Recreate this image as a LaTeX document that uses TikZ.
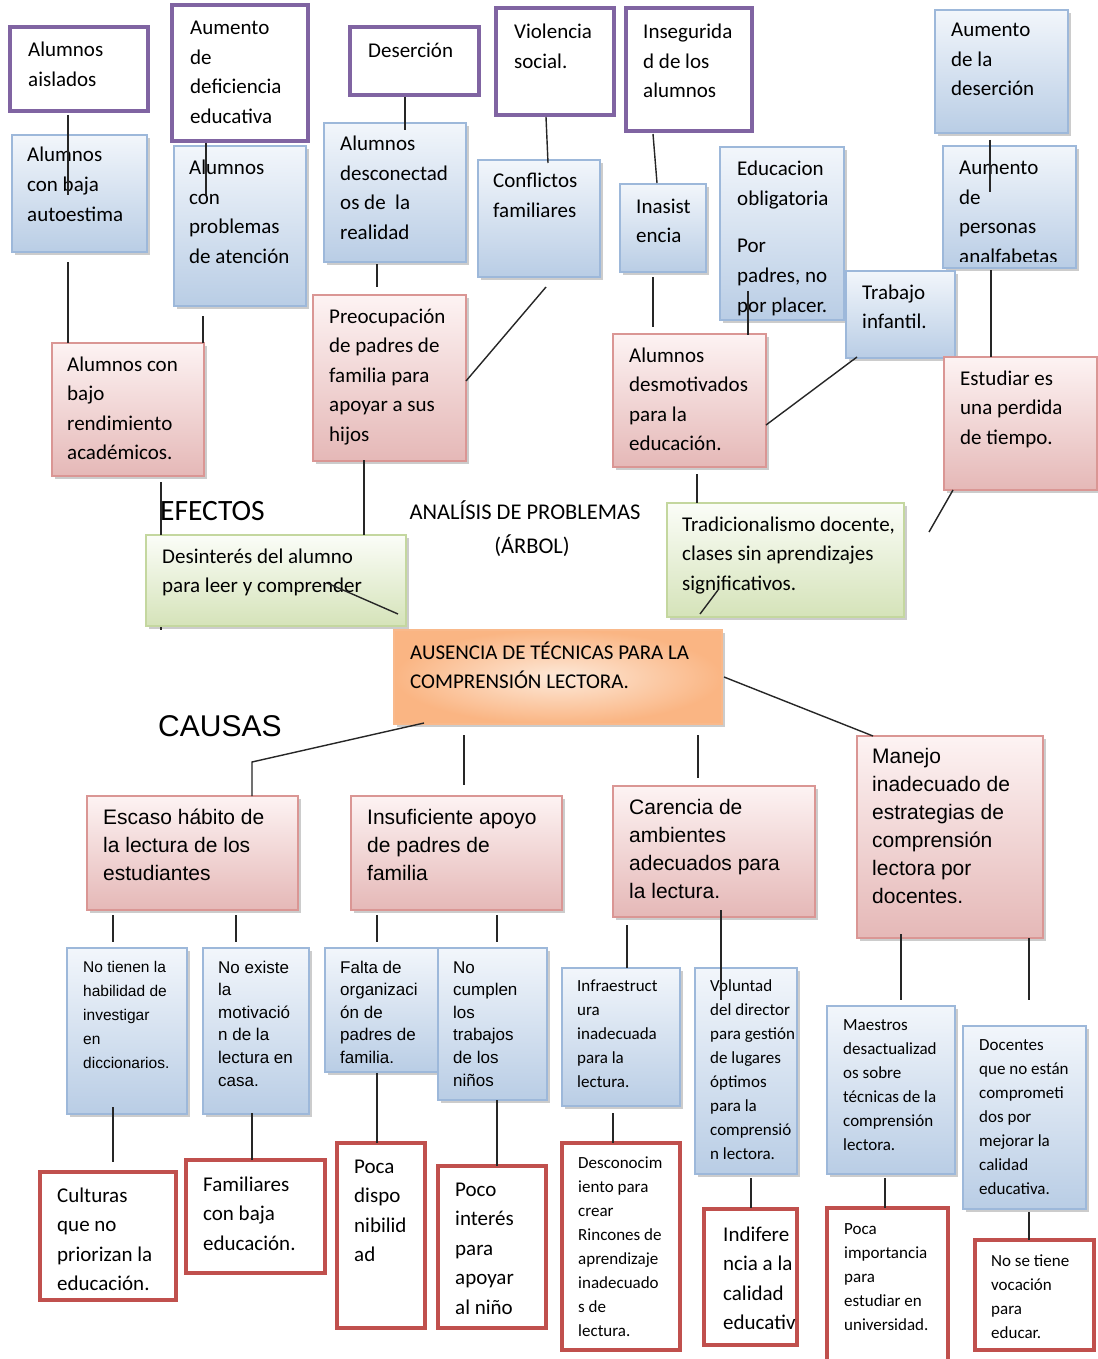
\documentclass[tikz,border=0pt]{standalone}
\usepackage{fontspec}
\setmainfont{Carlito}
\newfontfamily\arialf{Liberation Sans}
\usetikzlibrary{shadows}
\definecolor{purp}{HTML}{8064A2}
\definecolor{redb}{HTML}{C0504D}
\definecolor{bluetop}{HTML}{F2F6FB}
\definecolor{bluebot}{HTML}{B9CDE5}
\definecolor{bluebd}{HTML}{9DB8DA}
\definecolor{pinktop}{HTML}{FDF3F3}
\definecolor{pinkbot}{HTML}{E5B8B7}
\definecolor{pinkbd}{HTML}{DA9694}
\definecolor{greentop}{HTML}{FBFDF8}
\definecolor{greenbot}{HTML}{D5E3B9}
\definecolor{greenbd}{HTML}{C4D79F}
\definecolor{orin}{HTML}{FDE9D9}
\definecolor{orout}{HTML}{FAB583}
\definecolor{orbd}{HTML}{F9B98B}
\newcommand\bx[6]{\node[#1,anchor=north west,minimum width=#5-#3,minimum height=#6-#4] (#2) at (#3,#4) {};}
\newcommand\tx[5]{\node[#1,anchor=base west,inner sep=0pt] (#2) at (#3,#4) {\begin{tabular}[t]{@{}l@{}}#5\end{tabular}};}
\tikzset{
  bxbase/.style={rectangle,inner sep=0pt,outer sep=0pt},
  shad/.style={drop shadow={shadow xshift=2.5pt,shadow yshift=-3pt,opacity=0.4,fill=black!50}},
  purplebx/.style={bxbase,draw=purp,line width=4pt,fill=white},
  redbx/.style={bxbase,draw=redb,line width=4pt,fill=white},
  bluebx/.style={bxbase,shad,draw=bluebd,line width=1.5pt,top color=bluetop,bottom color=bluebot},
  pinkbx/.style={bxbase,shad,draw=pinkbd,line width=1.5pt,top color=pinktop,bottom color=pinkbot},
  greenbx/.style={bxbase,shad,draw=greenbd,line width=1.5pt,top color=greentop,bottom color=greenbot},
  orangebx/.style={bxbase,shad,draw=orbd,line width=1.5pt,inner color=orin,outer color=orout},
  cal/.style={font=\fontsize{21}{29.5}\selectfont},
  calsm/.style={font=\fontsize{17}{24}\selectfont},
  ari/.style={font=\arialf\fontsize{21}{28}\selectfont},
  arism/.style={font=\arialf\fontsize{17}{22.6}\selectfont},
  arixs/.style={font=\arialf\fontsize{15.5}{24}\selectfont},
  conn/.style={line width=1.4pt,black!85},
}
\begin{document}
\begin{tikzpicture}[x=1pt,y=-1pt]
\fill[white] (0,0) rectangle (1097,1359);
\useasboundingbox (0,0) rectangle (1097,1359);
% ---------- top purple boxes
\bx{purplebx}{p1}{10}{27}{148}{111}
\bx{purplebx}{p2}{172}{5}{308}{141}
\bx{purplebx}{p3}{350}{27}{479}{95}
\bx{purplebx}{p4}{496}{8}{614}{115}
\bx{purplebx}{p5}{626}{8}{752}{131}
% ---------- blue effect boxes
\bx{bluebx}{b8}{935}{10}{1068}{133}
\bx{bluebx}{b1}{12}{135}{147}{252}
\bx{bluebx}{b2}{174}{146}{306}{306}
\bx{bluebx}{b3}{324}{123}{466}{262}
\bx{bluebx}{b4}{478}{160}{600}{277}
\bx{bluebx}{b5}{620}{184}{706}{272}
\bx{bluebx}{b6}{720}{147}{844}{320}
\bx{bluebx}{b9}{943}{146}{1076}{268}
\bx{bluebx}{b7}{846}{271}{955}{358}
% ---------- pink effect boxes
\bx{pinkbx}{r1}{52}{343}{204}{476}
\bx{pinkbx}{r2}{313}{295}{466}{461}
\bx{pinkbx}{r3}{613}{334}{766}{467}
\bx{pinkbx}{r4}{944}{357}{1097}{490}
% ---------- green boxes
\bx{greenbx}{g1}{146}{535}{406}{626}
\bx{greenbx}{g2}{667}{503}{904}{617}
% ---------- central problem
\bx{orangebx}{o}{394}{630}{722}{724}
% ---------- causes
\bx{pinkbx}{c1}{87}{796}{298}{910}
\bx{pinkbx}{c2}{351}{796}{562}{910}
\bx{pinkbx}{c3}{613}{786}{815}{917}
\bx{pinkbx}{c4}{857}{736}{1043}{938}
% ---------- sub causes
\bx{bluebx}{s1}{67}{948}{187}{1114}
\bx{bluebx}{s2}{203}{948}{309}{1114}
\bx{bluebx}{s3}{325}{948}{438}{1072}
\bx{bluebx}{s4}{438}{948}{547}{1100}
\bx{bluebx}{s5}{562}{968}{680}{1106}
\bx{bluebx}{s6}{695}{968}{797}{1174}
\bx{bluebx}{s7}{827}{1006}{955}{1174}
\bx{bluebx}{s8}{963}{1026}{1086}{1209}
% ---------- root causes
\bx{redbx}{t1}{40}{1172}{176}{1300}
\bx{redbx}{t2}{186}{1160}{325}{1273}
\bx{redbx}{t3}{337}{1143}{425}{1328}
\bx{redbx}{t4}{438}{1166}{546}{1328}
\bx{redbx}{t5}{562}{1143}{680}{1350}
\bx{redbx}{t6}{704}{1209}{797}{1345}
\bx{redbx}{t7}{827}{1208}{948}{1364}
\bx{redbx}{t8}{975}{1240}{1094}{1350}
% ---------- texts
\tx{cal}{p1t}{28}{57}{Alumnos\\aislados}
\tx{cal}{p2t}{190}{35}{Aumento\\de\\deficiencia\\educativa}
\tx{cal}{p3t}{368}{58}{Deserción}
\tx{cal}{p4t}{514}{39}{Violencia\\social.}
\tx{cal}{p5t}{643}{39}{Insegurida\\d de los\\alumnos}
\tx{cal}{b8t}{951}{37}{Aumento\\de la\\deserción}
\tx{cal}{b1t}{27}{162}{Alumnos\\con baja\\autoestima}
\tx{cal}{b2t}{189}{175}{Alumnos\\con\\problemas\\de atención}
\tx{cal}{b3t}{340}{151}{Alumnos\\desconectad\\os de\ \ la\\realidad}
\tx{cal}{b4t}{493}{188}{Conflictos\\familiares}
\tx{cal}{b5t}{636}{213}{Inasist\\encia}
\begin{scope}
\clip (b6.north west) rectangle ([shift={(0,-5)}]b6.south east);
\tx{cal}{b6t}{737}{176}{Educacion\\obligatoria\\[18pt]Por\\padres, no\\por placer.}
\end{scope}
\begin{scope}
\clip (b9.north west) rectangle ([shift={(0,-7)}]b9.south east);
\tx{cal}{b9t}{959}{175}{Aumento\\de\\personas\\analfabetas}
\end{scope}
\tx{cal}{b7t}{862}{299}{Trabajo\\infantil.}
\tx{cal}{r1t}{67}{371}{Alumnos con\\bajo\\rendimiento\\académicos.}
\tx{cal}{r2t}{329}{323}{Preocupación\\de padres de\\familia para\\apoyar a sus\\hijos}
\tx{cal}{r3t}{629}{362}{Alumnos\\desmotivados\\para la\\educación.}
\tx{cal}{r4t}{960}{385}{Estudiar es\\una perdida\\de tiempo.}
\tx{cal}{g1t}{162}{563}{Desinterés del alumno\\para leer y comprender}
\tx{cal}{g2t}{682}{531}{Tradicionalismo docente,\\clases sin aprendizajes\\significativos.}
\tx{cal}{ot}{410}{659}{AUSENCIA DE TÉCNICAS PARA LA\\COMPRENSIÓN LECTORA.}
\node[font=\fontsize{29.5}{34}\selectfont,anchor=base west,inner sep=0pt] (efectos) at (160,520) {EFECTOS};
\node[font=\fontsize{22.5}{26}\selectfont,anchor=base,inner sep=0pt] (analisis) at (525,519) {ANALÍSIS DE PROBLEMAS};
\node[font=\fontsize{22.5}{26}\selectfont,anchor=base,inner sep=0pt] (arbol) at (532,553) {(ÁRBOL)};
\node[font=\arialf\fontsize{30}{34}\selectfont,anchor=base west,inner sep=0pt] (causas) at (158,736) {CAUSAS};
\tx{ari}{c1t}{103}{824}{Escaso hábito de\\la lectura de los\\estudiantes}
\tx{ari}{c2t}{367}{824}{Insuficiente apoyo\\de padres de\\familia}
\tx{ari}{c3t}{629}{814}{Carencia de\\ambientes\\adecuados para\\la lectura.}
\tx{ari}{c4t}{872}{763}{Manejo\\inadecuado de\\estrategias de\\comprensión\\lectora por\\docentes.}
\tx{arixs}{s1t}{83}{972}{No tienen la\\habilidad de\\investigar\\en\\diccionarios.}
\tx{arism}{s2t}{218}{973}{No existe\\la\\motivació\\n de la\\lectura en\\casa.}
\tx{arism}{s3t}{340}{973}{Falta de\\organizaci\\ón de\\padres de\\familia.}
\tx{arism}{s4t}{453}{973}{No\\cumplen\\los\\trabajos\\de los\\niños}
\tx{calsm}{s5t}{577}{991}{Infraestruct\\ura\\inadecuada\\para la\\lectura.}
\tx{calsm}{s6t}{710}{991}{Voluntad\\del director\\para gestión\\de lugares\\óptimos\\para la\\comprensió\\n lectora.}
\tx{calsm}{s7t}{843}{1030}{Maestros\\desactualizad\\os sobre\\técnicas de la\\comprensión\\lectora.}
\tx{calsm}{s8t}{979}{1050}{Docentes\\que no están\\comprometi\\dos por\\mejorar la\\calidad\\educativa.}
\tx{cal}{t1t}{57}{1202}{Culturas\\que no\\priorizan la\\educación.}
\tx{cal}{t2t}{203}{1191}{Familiares\\con baja\\educación.}
\tx{cal}{t3t}{354}{1173}{Poca\\dispo\\nibilid\\ad}
\tx{cal}{t4t}{455}{1196}{Poco\\interés\\para\\apoyar\\al niño}
\tx{calsm}{t5t}{578}{1168}{Desconocim\\iento para\\crear\\Rincones de\\aprendizaje\\inadecuado\\s de\\lectura.}
\tx{cal}{t6t}{723}{1241}{Indifere\\ncia a la\\calidad\\educativ}
\tx{calsm}{t7t}{844}{1234}{Poca\\importancia\\para\\estudiar en\\universidad.}
\tx{calsm}{t8t}{991}{1266}{No se tiene\\vocación\\para\\educar.}
% ---------- connectors (effects)
\draw[conn] ([shift={(58,4)}]p1.south west) -- ([shift={(56,60)}]b1.north west);
\draw[conn] ([shift={(34,2)}]p2.south west) -- ([shift={(32,49)}]b2.north west);
\draw[conn] ([shift={(55,2)}]p3.south west) -- ([shift={(81,7)}]b3.north west);
\draw[conn] ([shift={(50,2)}]p4.south west) -- ([shift={(70,3)}]b4.north west);
\draw[conn] ([shift={(27,3)}]p5.south west) -- ([shift={(37,-1)}]b5.north west);
\draw[conn] ([shift={(55,7)}]b8.south west) -- ([shift={(47,46)}]b9.north west);
\draw[conn] ([shift={(56,10)}]b1.south west) -- ([shift={(16,0)}]r1.north west);
\draw[conn] ([shift={(29,10)}]b2.south west) -- ([shift={(151,0)}]r1.north west);
\draw[conn] ([shift={(53,2)}]b3.south west) -- ([shift={(64,-8)}]r2.north west);
\draw[conn] ([shift={(68,10)}]b4.south west) -- ([shift={(153,86)}]r2.north west);
\draw[conn] ([shift={(33,5)}]b5.south west) -- ([shift={(40,-7)}]r3.north west);
\draw[conn] ([shift={(28,-29)}]b6.south west) -- ([shift={(135,1)}]r3.north west);
\draw[conn] ([shift={(11,-1)}]b7.south west) -- ([shift={(153,91)}]r3.north west);
\draw[conn] ([shift={(48,2)}]b9.south west) -- ([shift={(47,0)}]r4.north west);
\draw[conn] ([shift={(109,6)}]r1.south west) -- ([shift={(15,0)}]g1.north west);
\draw[conn] ([shift={(51,-1)}]r2.south west) -- ([shift={(218,0)}]g1.north west);
\draw[conn] ([shift={(84,7)}]r3.south west) -- ([shift={(30,0)}]g2.north west);
\draw[conn] ([shift={(9,0)}]r4.south west) -- ([shift={(262,29)}]g2.north west);
\draw[conn] ([shift={(181,48)}]g1.north west) -- ([shift={(252,79)}]g1.north west);
\draw[conn] ([shift={(33,-3)}]g2.south west) -- ([shift={(51,-27)}]g2.south west);
\fill[black!85] ([shift={(14,1)}]g1.south west) rectangle ([shift={(15.5,4)}]g1.south west);
% ---------- connectors (causes)
\draw[conn] ([shift={(30,-1)}]o.south west) -- ([shift={(165,-34)}]c1.north west) -- ([shift={(165,0)}]c1.north west);
\draw[conn] ([shift={(70,11)}]o.south west) -- ([shift={(113,-11)}]c2.north west);
\draw[conn] ([shift={(304,11)}]o.south west) -- ([shift={(85,-8)}]c3.north west);
\draw[conn] ([shift={(2,47)}]o.north east) -- ([shift={(16,0)}]c4.north west);
\draw[conn] ([shift={(26,5)}]c1.south west) -- ([shift={(46,-6)}]s1.north west);
\draw[conn] ([shift={(149,5)}]c1.south west) -- ([shift={(33,-6)}]s2.north west);
\draw[conn] ([shift={(26,5)}]c2.south west) -- ([shift={(52,-6)}]s3.north west);
\draw[conn] ([shift={(146,5)}]c2.south west) -- ([shift={(59,-6)}]s4.north west);
\draw[conn] ([shift={(14,8)}]c3.south west) -- ([shift={(65,0)}]s5.north west);
\draw[conn] ([shift={(108,-7)}]c3.south west) -- ([shift={(26,32)}]s6.north west);
\draw[conn] ([shift={(44,-4)}]c4.south west) -- ([shift={(74,-6)}]s7.north west);
\draw[conn] ([shift={(172,0)}]c4.south west) -- ([shift={(66,-26)}]s8.north west);
\draw[conn] ([shift={(46,-7)}]s1.south west) -- ([shift={(73,-10)}]t1.north west);
\draw[conn] ([shift={(49,-1)}]s2.south west) -- ([shift={(66,0)}]t2.north west);
\draw[conn] ([shift={(52,1)}]s3.south west) -- ([shift={(40,0)}]t3.north west);
\draw[conn] ([shift={(59,0)}]s4.south west) -- ([shift={(59,0)}]t4.north west);
\draw[conn] ([shift={(51,7)}]s5.south west) -- ([shift={(51,0)}]t5.north west);
\draw[conn] ([shift={(56,4)}]s6.south west) -- ([shift={(47,-1)}]t6.north west);
\draw[conn] ([shift={(58,4)}]s7.south west) -- ([shift={(58,0)}]t7.north west);
\draw[conn] ([shift={(66,3)}]s8.south west) -- ([shift={(54,0)}]t8.north west);
\end{tikzpicture}
\end{document}
